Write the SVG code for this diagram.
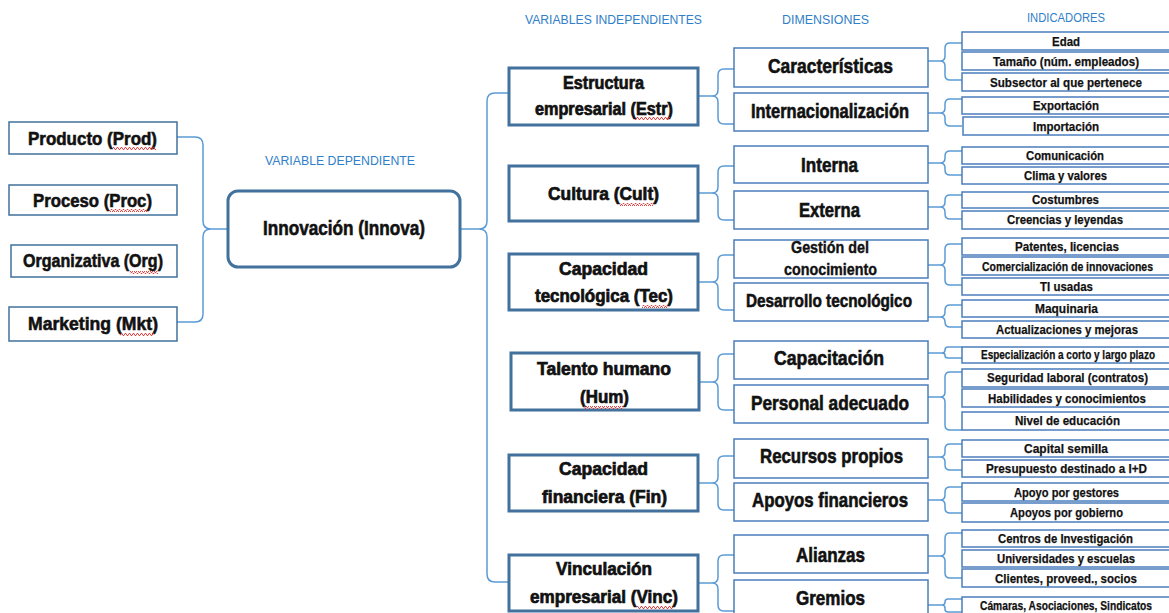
<svg xmlns="http://www.w3.org/2000/svg" width="1169" height="613" viewBox="0 0 1169 613">
  <style>
    .bg { fill: #ffffff; }
    .leaf { fill: #ffffff; stroke: #41719C; stroke-width: 1.5; }
    .main { fill: #ffffff; stroke: #41719C; stroke-width: 3; }
    .var { fill: #ffffff; stroke: #41719C; stroke-width: 3; }
    .dim { fill: #ffffff; stroke: #4A7EBB; stroke-width: 1.5; }
    .ind { fill: #ffffff; stroke: #4A7EBB; stroke-width: 1.5; }
    .conn { fill: none; stroke: #5B9BD5; stroke-width: 1.5; }
    text { font-family: "Liberation Sans Narrow", "Liberation Sans", Arial, sans-serif; fill: #111111; text-anchor: middle; }
    .hdr { font-family: "Liberation Sans", Arial, sans-serif; font-size: 12px; fill: #2F80C8; }
    .t20 { font-size: 20px; font-weight: bold; stroke: #111111; stroke-width: 0.6; }
    .t19 { font-size: 19px; font-weight: bold; stroke: #111111; stroke-width: 0.6; }
    .t18 { font-size: 18px; font-weight: bold; stroke: #111111; stroke-width: 0.7; }
    .t17 { font-size: 17px; font-weight: bold; stroke: #111111; stroke-width: 0.4; }
    .t14 { font-size: 13.5px; font-weight: bold; stroke: #111111; stroke-width: 0.25; }
    .t12 { font-size: 12px; font-weight: bold; stroke: #111111; stroke-width: 0.25; }
    .sq { fill: url(#squiggle); }
  </style>
  <defs>
    <pattern id="squiggle" patternUnits="userSpaceOnUse" width="4" height="3">
      <path d="M0 2.5 L1 0.5 L2 0.5 L3 2.5 L4 2.5" fill="none" stroke="#E03030" stroke-width="0.9"/>
    </pattern>
  </defs>

  <rect class="bg" x="0" y="0" width="1169" height="613"/>

  <!-- column headings -->
  <g id="headings">
    <text class="hdr" x="340" y="165" textLength="150" lengthAdjust="spacingAndGlyphs">VARIABLE DEPENDIENTE</text>
    <text class="hdr" x="613.5" y="24" textLength="177" lengthAdjust="spacingAndGlyphs">VARIABLES INDEPENDIENTES</text>
    <text class="hdr" x="825.5" y="24" textLength="87" lengthAdjust="spacingAndGlyphs">DIMENSIONES</text>
    <text class="hdr" x="1066" y="22" textLength="78" lengthAdjust="spacingAndGlyphs">INDICADORES</text>
  </g>

  <!-- connectors (braces) -->
  <g id="connectors">
    <path class="conn" d="M177 137H195Q203 137 203 145V221Q203 229 211 229H228M177 322H195Q203 322 203 314V237Q203 229 211 229"/>
    <path class="conn" d="M460 229H479Q487 229 487 221V101Q487 93 495 93H510M479 229Q487 229 487 237V574Q487 582 495 582H510"/>
    <path class="conn" d="M698 96H712Q718 96 718 90V75Q718 69 724 69H734M712 96Q718 96 718 102V118Q718 124 724 124H734"/>
    <path class="conn" d="M698 193H712Q718 193 718 187V172Q718 166 724 166H734M712 193Q718 193 718 199V214Q718 220 724 220H734"/>
    <path class="conn" d="M698 282H712Q718 282 718 276V261Q718 255 724 255H734M712 282Q718 282 718 288V304Q718 310 724 310H734"/>
    <path class="conn" d="M698 382H712Q718 382 718 376V360Q718 354 724 354H734M712 382Q718 382 718 388V404Q718 410 724 410H734"/>
    <path class="conn" d="M698 483H712Q718 483 718 477V462Q718 456 724 456H734M712 483Q718 483 718 489V504Q718 510 724 510H734"/>
    <path class="conn" d="M698 583H712Q718 583 718 577V561Q718 555 724 555H734M712 583Q718 583 718 589V605Q718 611 724 611H734"/>
    <path class="conn" d="M928 61H940Q945 61 945 56V48Q945 43 950 43H962M940 61Q945 61 945 66V75Q945 80 950 80H962"/>
    <path class="conn" d="M928 113H940Q945 113 945 108V104Q945 99 950 99H962M940 113Q945 113 945 118V121Q945 126 950 126H962"/>
    <path class="conn" d="M928 163H940Q945 163 945 158V156Q945 151 950 151H962M940 163Q945 163 945 168V170Q945 175 950 175H962"/>
    <path class="conn" d="M928 207H940Q945 207 945 202V200Q945 195 950 195H962M940 207Q945 207 945 212V214Q945 219 950 219H962"/>
    <path class="conn" d="M928 265H940Q945 265 945 260V249Q945 244 950 244H962M940 265Q945 265 945 270V280Q945 285 950 285H962"/>
    <path class="conn" d="M928 317H940Q945 317 945 312V310Q945 305 950 305H962M940 317Q945 317 945 322Q945 327 950 327H962"/>
    <path class="conn" d="M928 353H942Q945 353 945 350Q945 347 948 347H962M942 353Q945 353 945 355.5Q945 358 948 358H962"/>
    <path class="conn" d="M928 397H940Q945 397 945 392V377Q945 372 950 372H962M940 397Q945 397 945 402V425Q945 430 950 430H962"/>
    <path class="conn" d="M928 457H940Q945 457 945 452V449Q945 444 950 444H962M940 457Q945 457 945 462V465Q945 470 950 470H962"/>
    <path class="conn" d="M928 500H940Q945 500 945 495V492Q945 487 950 487H962M940 500Q945 500 945 505V508Q945 513 950 513H962"/>
    <path class="conn" d="M928 556H940Q945 556 945 551V538Q945 533 950 533H962M940 556Q945 556 945 561V573Q945 578 950 578H962"/>
    <path class="conn" d="M928 605H942Q945 605 945 602Q945 599 948 599H962M942 605Q945 605 945 608V609Q945 612 948 612H962"/>
  </g>

  <!-- types of innovation -->
  <g id="prod"><rect class="leaf" x="9" y="122" width="168" height="32"/><text class="t19" x="92.5" y="145" textLength="129" lengthAdjust="spacingAndGlyphs">Producto (Prod)</text><rect class="sq" x="113" y="147" width="43" height="3"/></g>
  <g id="proc"><rect class="leaf" x="9" y="185" width="168" height="30"/><text class="t19" x="92.5" y="207" textLength="119" lengthAdjust="spacingAndGlyphs">Proceso (Proc)</text><rect class="sq" x="109" y="209" width="38" height="3"/></g>
  <g id="org"><rect class="leaf" x="11" y="245" width="166" height="32"/><text class="t19" x="93" y="267" textLength="140" lengthAdjust="spacingAndGlyphs">Organizativa (Org)</text><rect class="sq" x="130" y="271" width="28" height="3"/></g>
  <g id="mkt"><rect class="leaf" x="9" y="307" width="168" height="34"/><text class="t19" x="93" y="330" textLength="130" lengthAdjust="spacingAndGlyphs">Marketing (Mkt)</text><rect class="sq" x="120" y="333" width="34" height="3"/></g>

  <!-- dependent variable -->
  <g id="innova"><rect class="main" x="228" y="191" width="232" height="76" rx="10" ry="10"/><text class="t20" x="344" y="235" textLength="162" lengthAdjust="spacingAndGlyphs">Innovación (Innova)</text></g>

  <!-- independent variables -->
  <g id="estr"><rect class="var" x="509" y="68" width="189" height="57"/>
    <text class="t18" x="603.5" y="89" textLength="81" lengthAdjust="spacingAndGlyphs">Estructura</text>
    <text class="t18" x="604" y="115" textLength="138" lengthAdjust="spacingAndGlyphs">empresarial (Estr)</text>
    <rect class="sq" x="635" y="117" width="35" height="3"/></g>
  <g id="cult"><rect class="var" x="509" y="166" width="189" height="55"/>
    <text class="t18" x="603.5" y="200" textLength="111" lengthAdjust="spacingAndGlyphs">Cultura (Cult)</text>
    <rect class="sq" x="620" y="203" width="33" height="3"/></g>
  <g id="tec"><rect class="var" x="509" y="254" width="189" height="56"/>
    <text class="t18" x="603.5" y="275" textLength="89" lengthAdjust="spacingAndGlyphs">Capacidad</text>
    <text class="t18" x="604" y="302" textLength="138" lengthAdjust="spacingAndGlyphs">tecnológica (Tec)</text>
    <rect class="sq" x="642" y="305" width="26" height="3"/></g>
  <g id="hum"><rect class="var" x="511" y="353" width="188" height="57"/>
    <text class="t18" x="604" y="375" textLength="134" lengthAdjust="spacingAndGlyphs">Talento humano</text>
    <text class="t18" x="604.5" y="403" textLength="49" lengthAdjust="spacingAndGlyphs">(Hum)</text>
    <rect class="sq" x="584" y="406" width="39" height="3"/></g>
  <g id="fin"><rect class="var" x="509" y="455" width="189" height="56"/>
    <text class="t18" x="603.5" y="475" textLength="89" lengthAdjust="spacingAndGlyphs">Capacidad</text>
    <text class="t18" x="604.5" y="503" textLength="125" lengthAdjust="spacingAndGlyphs">financiera (Fin)</text></g>
  <g id="vinc"><rect class="var" x="509" y="555" width="189" height="56"/>
    <text class="t18" x="604" y="575" textLength="96" lengthAdjust="spacingAndGlyphs">Vinculación</text>
    <text class="t18" x="604" y="603" textLength="148" lengthAdjust="spacingAndGlyphs">empresarial (Vinc)</text>
    <rect class="sq" x="637" y="606" width="36" height="3"/></g>

  <!-- dimensions -->
  <g id="dim-caracteristicas"><rect class="dim" x="734" y="48" width="194" height="39"/><text class="t20" x="830.5" y="73" textLength="125" lengthAdjust="spacingAndGlyphs">Características</text></g>
  <g id="dim-internacionalizacion"><rect class="dim" x="734" y="93" width="194" height="38"/><text class="t20" x="830" y="118" textLength="158" lengthAdjust="spacingAndGlyphs">Internacionalización</text></g>
  <g id="dim-interna"><rect class="dim" x="734" y="146" width="194" height="37"/><text class="t20" x="829.5" y="172" textLength="57" lengthAdjust="spacingAndGlyphs">Interna</text></g>
  <g id="dim-externa"><rect class="dim" x="734" y="191" width="194" height="38"/><text class="t20" x="829.5" y="217" textLength="61" lengthAdjust="spacingAndGlyphs">Externa</text></g>
  <g id="dim-gestion"><rect class="dim" x="734" y="240" width="194" height="38"/>
    <text class="t17" x="830" y="253" textLength="78" lengthAdjust="spacingAndGlyphs">Gestión del</text>
    <text class="t17" x="830.5" y="275" textLength="93" lengthAdjust="spacingAndGlyphs">conocimiento</text></g>
  <g id="dim-desarrollo"><rect class="dim" x="734" y="283" width="194" height="38"/><text class="t19" x="829" y="307" textLength="166" lengthAdjust="spacingAndGlyphs">Desarrollo tecnológico</text></g>
  <g id="dim-capacitacion"><rect class="dim" x="734" y="341" width="194" height="38"/><text class="t20" x="829" y="365" textLength="110" lengthAdjust="spacingAndGlyphs">Capacitación</text></g>
  <g id="dim-personal"><rect class="dim" x="734" y="385" width="194" height="38"/><text class="t20" x="830" y="410" textLength="158" lengthAdjust="spacingAndGlyphs">Personal adecuado</text></g>
  <g id="dim-recursos"><rect class="dim" x="734" y="439" width="194" height="39"/><text class="t20" x="831.5" y="463" textLength="143" lengthAdjust="spacingAndGlyphs">Recursos propios</text></g>
  <g id="dim-apoyos"><rect class="dim" x="734" y="483" width="194" height="38"/><text class="t20" x="830" y="507" textLength="156" lengthAdjust="spacingAndGlyphs">Apoyos financieros</text></g>
  <g id="dim-alianzas"><rect class="dim" x="734" y="535" width="194" height="38"/><text class="t20" x="830.5" y="562" textLength="69" lengthAdjust="spacingAndGlyphs">Alianzas</text></g>
  <g id="dim-gremios"><rect class="dim" x="734" y="580" width="194" height="40"/><text class="t20" x="830.5" y="605" textLength="69" lengthAdjust="spacingAndGlyphs">Gremios</text></g>

  <!-- indicators -->
  <g id="ind-edad"><rect class="ind" x="962" y="32" width="210" height="18"/><text class="t14" x="1066" y="46" textLength="28" lengthAdjust="spacingAndGlyphs">Edad</text></g>
  <g id="ind-tamano"><rect class="ind" x="962" y="52" width="210" height="18"/><text class="t14" x="1066" y="66" textLength="146" lengthAdjust="spacingAndGlyphs">Tamaño (núm. empleados)</text></g>
  <g id="ind-subsector"><rect class="ind" x="962" y="73" width="210" height="18"/><text class="t14" x="1066" y="86.5" textLength="152" lengthAdjust="spacingAndGlyphs">Subsector al que pertenece</text></g>
  <g id="ind-exportacion"><rect class="ind" x="962" y="97" width="210" height="17"/><text class="t14" x="1066" y="110" textLength="66" lengthAdjust="spacingAndGlyphs">Exportación</text></g>
  <g id="ind-importacion"><rect class="ind" x="963" y="117" width="209" height="18"/><text class="t14" x="1066" y="130.5" textLength="66" lengthAdjust="spacingAndGlyphs">Importación</text></g>
  <g id="ind-comunicacion"><rect class="ind" x="962" y="147" width="210" height="17"/><text class="t14" x="1065" y="160" textLength="78" lengthAdjust="spacingAndGlyphs">Comunicación</text></g>
  <g id="ind-clima"><rect class="ind" x="962" y="167" width="210" height="17"/><text class="t14" x="1065.5" y="180" textLength="83" lengthAdjust="spacingAndGlyphs">Clima y valores</text></g>
  <g id="ind-costumbres"><rect class="ind" x="962" y="192" width="210" height="16"/><text class="t14" x="1065.5" y="204" textLength="67" lengthAdjust="spacingAndGlyphs">Costumbres</text></g>
  <g id="ind-creencias"><rect class="ind" x="962" y="211" width="210" height="18"/><text class="t14" x="1065" y="224" textLength="116" lengthAdjust="spacingAndGlyphs">Creencias y leyendas</text></g>
  <g id="ind-patentes"><rect class="ind" x="962" y="238" width="210" height="17"/><text class="t14" x="1067" y="250.5" textLength="104" lengthAdjust="spacingAndGlyphs">Patentes, licencias</text></g>
  <g id="ind-comercializacion"><rect class="ind" x="962" y="257" width="210" height="18"/><text class="t12" x="1067.5" y="270.5" textLength="171" lengthAdjust="spacingAndGlyphs">Comercialización de innovaciones</text></g>
  <g id="ind-ti"><rect class="ind" x="962" y="278" width="210" height="17"/><text class="t14" x="1066.5" y="290.5" textLength="53" lengthAdjust="spacingAndGlyphs">TI usadas</text></g>
  <g id="ind-maquinaria"><rect class="ind" x="962" y="300" width="210" height="17"/><text class="t14" x="1066.5" y="312.5" textLength="63" lengthAdjust="spacingAndGlyphs">Maquinaria</text></g>
  <g id="ind-actualizaciones"><rect class="ind" x="962" y="321" width="210" height="17"/><text class="t14" x="1067" y="333.5" textLength="142" lengthAdjust="spacingAndGlyphs">Actualizaciones y mejoras</text></g>
  <g id="ind-especializacion"><rect class="ind" x="962" y="347" width="210" height="16"/><text class="t12" x="1068" y="358.5" textLength="174" lengthAdjust="spacingAndGlyphs">Especialización a corto y largo plazo</text></g>
  <g id="ind-seguridad"><rect class="ind" x="962" y="369" width="210" height="18"/><text class="t14" x="1067.5" y="382" textLength="161" lengthAdjust="spacingAndGlyphs">Seguridad laboral (contratos)</text></g>
  <g id="ind-habilidades"><rect class="ind" x="962" y="389" width="210" height="18"/><text class="t14" x="1067" y="402.5" textLength="158" lengthAdjust="spacingAndGlyphs">Habilidades y conocimientos</text></g>
  <g id="ind-nivel"><rect class="ind" x="962" y="412" width="210" height="18"/><text class="t14" x="1067.5" y="425" textLength="105" lengthAdjust="spacingAndGlyphs">Nivel de educación</text></g>
  <g id="ind-capital"><rect class="ind" x="962" y="440" width="210" height="17"/><text class="t14" x="1066" y="452.5" textLength="84" lengthAdjust="spacingAndGlyphs">Capital semilla</text></g>
  <g id="ind-presupuesto"><rect class="ind" x="962" y="460" width="210" height="17"/><text class="t14" x="1066.5" y="473" textLength="161" lengthAdjust="spacingAndGlyphs">Presupuesto destinado a I+D</text></g>
  <g id="ind-gestores"><rect class="ind" x="962" y="483" width="210" height="18"/><text class="t14" x="1066.5" y="496.5" textLength="105" lengthAdjust="spacingAndGlyphs">Apoyo por gestores</text></g>
  <g id="ind-gobierno"><rect class="ind" x="962" y="503" width="210" height="19"/><text class="t14" x="1066.5" y="517" textLength="113" lengthAdjust="spacingAndGlyphs">Apoyos por gobierno</text></g>
  <g id="ind-centros"><rect class="ind" x="962" y="530" width="210" height="17"/><text class="t14" x="1065.5" y="543" textLength="135" lengthAdjust="spacingAndGlyphs">Centros de Investigación</text></g>
  <g id="ind-universidades"><rect class="ind" x="962" y="550" width="210" height="17"/><text class="t14" x="1066" y="563" textLength="138" lengthAdjust="spacingAndGlyphs">Universidades y escuelas</text></g>
  <g id="ind-clientes"><rect class="ind" x="962" y="569" width="210" height="18"/><text class="t14" x="1066" y="583" textLength="142" lengthAdjust="spacingAndGlyphs">Clientes, proveed., socios</text></g>
  <g id="ind-camaras"><rect class="ind" x="962" y="597" width="210" height="23"/><text class="t12" x="1066" y="609.5" textLength="172" lengthAdjust="spacingAndGlyphs">Cámaras, Asociaciones, Sindicatos</text></g>
</svg>
